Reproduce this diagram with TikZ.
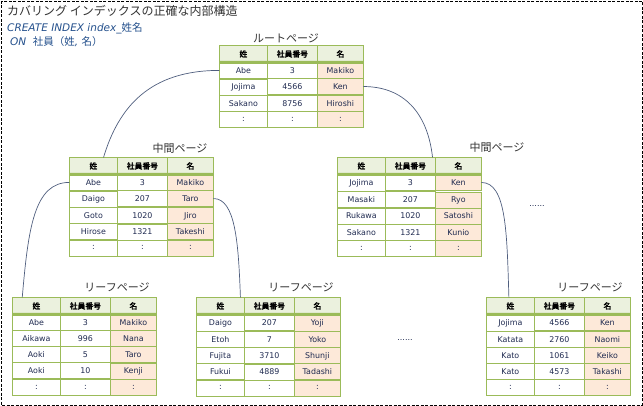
\documentclass[tikz,border=0pt]{standalone}
\usepackage{fontspec}
\setmainfont{DejaVu Sans}
\newfontfamily\jpfont[AutoFakeBold=2.5]{Noto Sans CJK JP}
\usetikzlibrary{matrix}
\definecolor{tblgreen}{HTML}{9BBB59}
\definecolor{headfill}{HTML}{EBF1DE}
\definecolor{namefill}{HTML}{FDE9D9}
\definecolor{datatext}{HTML}{1F2A50}
\definecolor{linkcol}{HTML}{4F5E7E}
\definecolor{sqlblue}{HTML}{24508C}
\definecolor{labelcol}{HTML}{333333}
\tikzset{
  cell/.style = {draw=tblgreen, line width=0.8pt, inner sep=0pt, outer sep=0pt,
    minimum height=16pt, text=datatext, font=\fontsize{7.9}{9}\selectfont},% data row
  headcell/.style = {fill=headfill, minimum height=17pt, text=black,
    font=\jpfont\bfseries\fontsize{7.8}{9}\selectfont},% header row
  pagetbl/.style = {matrix of nodes, inner sep=0pt, outer sep=0pt,
    column sep=-0.8pt, row sep=-0.8pt, anchor=north west, nodes={cell},
    column 1/.style={nodes={minimum width=48pt}},
    column 2/.style={nodes={minimum width=50pt}},
    column 3/.style={nodes={minimum width=46pt, fill=namefill}},
    row 1/.style={nodes={headcell}}},% index page
  headrule/.style = {draw=tblgreen, line width=3pt},
  pagelabel/.style = {inner sep=0pt, text=labelcol,
    font=\jpfont\fontsize{11}{13}\selectfont},
  link/.style = {draw=linkcol, line width=0.7pt},
  moredots/.style = {inner sep=0pt, text=datatext, font=\fontsize{8}{9}\selectfont}
}
\begin{document}
\begin{tikzpicture}[x=1pt, y=-1pt]
  \useasboundingbox (0,0) rectangle (643,406);
  \draw[black, line width=0.7pt, dash pattern=on 3pt off 1.5pt] (1,1) rectangle (642,405);

  % title and statement
  \node[anchor=west, inner sep=0pt, text=labelcol, font=\jpfont\fontsize{12}{14}\selectfont]
    (title) at (7,11) {カバリング インデックスの正確な内部構造};
  \node[anchor=west, inner sep=0pt, text=sqlblue, font=\fontsize{10.5}{12}\selectfont]
    (sqla) at (7,28) {\itshape CREATE INDEX index\_{\jpfont 姓名}};
  \node[anchor=west, inner sep=0pt, text=sqlblue, font=\fontsize{10.5}{12}\selectfont]
    (sqlb) at (10,42) {\itshape ON\ \ {\upshape\jpfont 社員（姓}, {\upshape\jpfont 名）}};

  % root page
  \node[pagelabel] (rootlbl) at (286,38) {ルートページ};
  \matrix (root) [pagetbl] at (219,45) {
    姓 & 社員番号 & 名 \\
    Abe & 3 & Makiko \\
    Jojima & 4566 & Ken \\
    Sakano & 8756 & Hiroshi \\
    : & : & : \\
  };
  \draw[headrule] (root-1-1.south west) -- (root-1-3.south east);

  % intermediate pages
  \node[pagelabel] (midalbl) at (180,148) {中間ページ};
  \matrix (mida) [pagetbl] at (69,157) {
    姓 & 社員番号 & 名 \\
    Abe & 3 & Makiko \\
    Daigo & 207 & Taro \\
    Goto & 1020 & Jiro \\
    Hirose & 1321 & Takeshi \\
    : & : & : \\
  };
  \draw[headrule] (mida-1-1.south west) -- (mida-1-3.south east);

  \node[pagelabel] (midblbl) at (497,147) {中間ページ};
  \matrix (midb) [pagetbl] at (337,157) {
    姓 & 社員番号 & 名 \\
    Jojima & 3 & Ken \\
    Masaki & 207 & Ryo \\
    Rukawa & 1020 & Satoshi \\
    Sakano & 1321 & Kunio \\
    : & : & : \\
  };
  \draw[headrule] (midb-1-1.south west) -- (midb-1-3.south east);
  \node[moredots] (midmore) at (537,206) {......};

  % leaf pages
  \node[pagelabel] (leafalbl) at (117,287) {リーフページ};
  \matrix (leafa) [pagetbl] at (12,297) {
    姓 & 社員番号 & 名 \\
    Abe & 3 & Makiko \\
    Aikawa & 996 & Nana \\
    Aoki & 5 & Taro \\
    Aoki & 10 & Kenji \\
    : & : & : \\
  };
  \draw[headrule] (leafa-1-1.south west) -- (leafa-1-3.south east);

  \node[pagelabel] (leafblbl) at (301,287) {リーフページ};
  \matrix (leafb) [pagetbl] at (196,297) {
    姓 & 社員番号 & 名 \\
    Daigo & 207 & Yoji \\
    Etoh & 7 & Yoko \\
    Fujita & 3710 & Shunji \\
    Fukui & 4889 & Tadashi \\
    : & : & : \\
  };
  \draw[headrule] (leafb-1-1.south west) -- (leafb-1-3.south east);
  \node[moredots] (leafmore) at (405,340) {......};

  \node[pagelabel] (leafclbl) at (590,287) {リーフページ};
  \matrix (leafc) [pagetbl] at (486,297) {
    姓 & 社員番号 & 名 \\
    Jojima & 4566 & Ken \\
    Katata & 2760 & Naomi \\
    Kato & 1061 & Keiko \\
    Kato & 4573 & Takashi \\
    : & : & : \\
  };
  \draw[headrule] (leafc-1-1.south west) -- (leafc-1-3.south east);

  % pointers between pages
  \draw[link] (root-2-1.west) .. controls +(-70,0) and +(15,-50) .. (mida-1-1.40);
  \draw[link] (root-3-3.east) .. controls +(40,0) and +(-5,-45) .. (midb-1-2.21);
  \draw[link] (mida-2-1.west) .. controls +(-35,0) and +(6,-70) .. (leafa-1-1.149);
  \draw[link] (mida-3-3.east) .. controls +(22,0) and +(-2,-55) .. (leafb-1-1.23);
  \draw[link] (midb-2-3.east) .. controls +(25,0) and +(-2,-65) .. (leafc-1-1.100);
\end{tikzpicture}
\end{document}
